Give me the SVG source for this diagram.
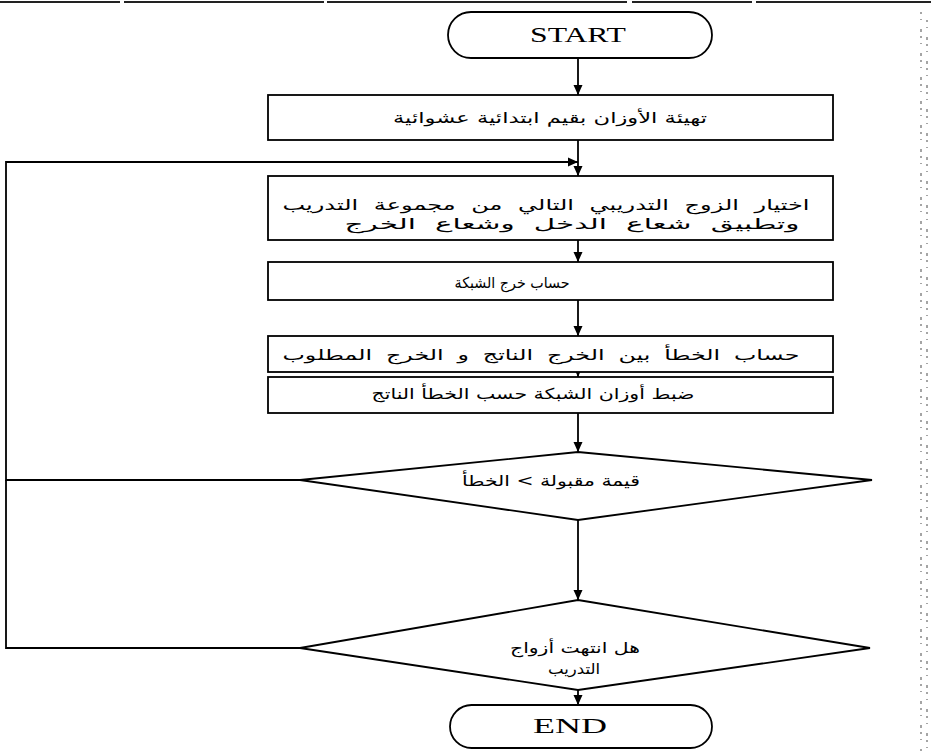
<svg xmlns="http://www.w3.org/2000/svg" width="931" height="751" viewBox="0 0 931 751">
<defs>
<marker id="ah" viewBox="0 0 10 10" refX="10" refY="5" markerWidth="10" markerHeight="10" markerUnits="userSpaceOnUse" orient="auto">
<path d="M0,0.5 L10,5 L0,9.5 z" fill="#000"/>
</marker>
<style>
.shape{fill:#fff;stroke:#000;stroke-width:1.8}
.line{fill:none;stroke:#000;stroke-width:1.8}
.ar{font-family:"DejaVu Sans",sans-serif;font-size:15px;fill:#000;text-anchor:middle;direction:rtl}
.en{font-family:"Liberation Serif",serif;font-size:21px;fill:#000;text-anchor:middle}
.noise{fill:none;stroke:#888;stroke-width:1.5;stroke-dasharray:2 5 1 9 3 4}
</style>
</defs>
<rect width="931" height="751" fill="#fff"/>
<line x1="0" y1="2" x2="931" y2="2" stroke="#222" stroke-width="2" stroke-dasharray="120 4 200 3 300 5"/>
<line class="noise" x1="921" y1="12" x2="921" y2="751"/>
<line class="noise" x1="927" y1="20" x2="927" y2="751"/>
<g id="connectors">
<line class="line" x1="578" y1="58" x2="578" y2="95" marker-end="url(#ah)"/>
<line class="line" x1="578" y1="140" x2="578" y2="176" marker-end="url(#ah)"/>
<polyline class="line" points="300,480 6,480 6,162 578,162" marker-end="url(#ah)"/>
<polyline class="line" points="300,648 6,648 6,480"/>
<line class="line" x1="578" y1="240" x2="578" y2="262" marker-end="url(#ah)"/>
<line class="line" x1="578" y1="300" x2="578" y2="336" marker-end="url(#ah)"/>
<line class="line" x1="578" y1="372" x2="578" y2="377" marker-end="url(#ah)"/>
<line class="line" x1="578" y1="413" x2="578" y2="452" marker-end="url(#ah)"/>
<line class="line" x1="578" y1="520" x2="578" y2="600" marker-end="url(#ah)"/>
<line class="line" x1="578" y1="690" x2="578" y2="705" marker-end="url(#ah)"/>
</g>
<g id="start">
<rect class="shape" x="448" y="12" width="264" height="46" rx="23"/>
<text class="en" x="578" y="42" textLength="96" lengthAdjust="spacingAndGlyphs">START</text>
</g>
<g id="init">
<rect class="shape" x="268" y="95" width="565" height="45"/>
<text class="ar" x="550" y="123" textLength="314" lengthAdjust="spacingAndGlyphs">تهيئة الأوزان بقيم ابتدائية عشوائية</text>
</g>
<g id="select">
<rect class="shape" x="268" y="176" width="565" height="64"/>
<text class="ar" x="546" y="210" textLength="527" lengthAdjust="spacingAndGlyphs" style="word-spacing:5px">اختيار الزوج التدريبي التالي من مجموعة التدريب</text>
<text class="ar" x="572" y="229" textLength="455" lengthAdjust="spacingAndGlyphs" style="word-spacing:5px">وتطبيق شعاع الدخل وشعاع الخرج</text>
</g>
<g id="compute">
<rect class="shape" x="268" y="262" width="565" height="38"/>
<text class="ar" x="512" y="288" textLength="115" lengthAdjust="spacingAndGlyphs">حساب خرج الشبكة</text>
</g>
<g id="error">
<rect class="shape" x="268" y="336" width="565" height="36"/>
<text class="ar" x="541" y="360" textLength="517" lengthAdjust="spacingAndGlyphs" style="word-spacing:4px">حساب الخطأ بين الخرج الناتج و الخرج المطلوب</text>
</g>
<g id="adjust">
<rect class="shape" x="268" y="377" width="565" height="36"/>
<text class="ar" x="533" y="399" textLength="323" lengthAdjust="spacingAndGlyphs">ضبط أوزان الشبكة حسب الخطأ الناتج</text>
</g>
<g id="check-error">
<polygon class="shape" points="578,452 872,480 578,520 300,480"/>
<text class="ar" x="551" y="486" textLength="178" lengthAdjust="spacingAndGlyphs">قيمة مقبولة &gt; الخطأ</text>
</g>
<g id="check-pairs">
<polygon class="shape" points="578,600 870,648 578,690 300,648"/>
<text class="ar" x="575" y="653" textLength="130" lengthAdjust="spacingAndGlyphs">هل انتهت أزواج</text>
<text class="ar" x="574" y="674" textLength="52" lengthAdjust="spacingAndGlyphs">التدريب</text>
</g>
<g id="end">
<rect class="shape" x="450" y="705" width="262" height="43" rx="21.5"/>
<text class="en" x="570" y="733" textLength="74" lengthAdjust="spacingAndGlyphs">END</text>
</g>
</svg>
